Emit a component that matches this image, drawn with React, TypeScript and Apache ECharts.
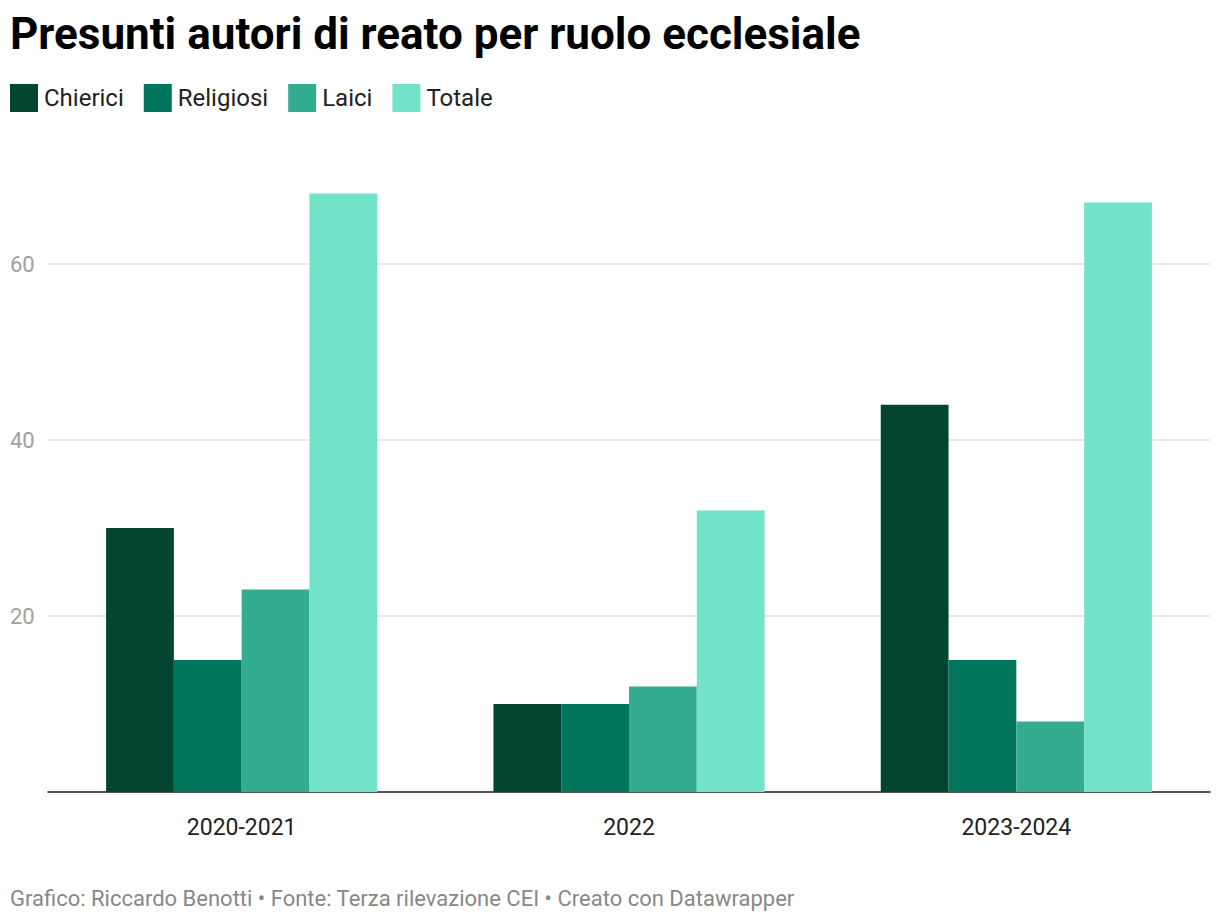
import React, { useEffect, useRef } from "react";
import * as echarts from "echarts";

const categories = ["2020-2021", "2022", "2023-2024"];
const seriesNames = ["Chierici", "Religiosi", "Laici", "Totale"];
const chierici = [30, 10, 44];
const religiosi = [15, 10, 15];
const laici = [23, 12, 8];
const totale = [68, 32, 67];
const colors = ["#034530", "#02765c", "#34ac8f", "#72e3c8"];

const TITLE = "Presunti autori di reato per ruolo ecclesiale";
const FOOTER = "Grafico: Riccardo Benotti • Fonte: Terza rilevazione CEI • Creato con Datawrapper";
const FONT = "Roboto, 'Noto Sans', sans-serif";

export default function App() {
  const ref = useRef<HTMLDivElement>(null);
  useEffect(() => {
    document.body.style.margin = "0";
    const chart = echarts.init(ref.current!, null, { renderer: "svg" });
    const values = [chierici, religiosi, laici, totale];
    chart.setOption({
      animation: false,
      backgroundColor: "#ffffff",
      textStyle: { fontFamily: FONT },
      graphic: [
        {
          type: "text",
          left: 10,
          top: 12,
          style: { text: TITLE, fontSize: 44, fontWeight: "bold", fill: "#000000", fontFamily: FONT },
        },
        {
          type: "text",
          left: 10,
          top: 887,
          style: { text: FOOTER, fontSize: 22, fill: "#888888", fontFamily: FONT },
        },
      ],
      legend: {
        left: 10,
        top: 84,
        padding: 0,
        itemWidth: 28,
        itemHeight: 28,
        itemGap: 20,
        icon: "rect",
        textStyle: { fontSize: 24, color: "#222222", fontFamily: FONT, padding: [0, 0, 0, 1] },
        data: seriesNames,
      },
      grid: { left: 48, right: 10, top: 176, bottom: 132, containLabel: false },
      xAxis: {
        type: "category",
        data: categories,
        axisLine: { lineStyle: { color: "#222222", width: 1.5 } },
        axisTick: { alignWithLabel: true, length: 8, lineStyle: { color: "#222222", width: 1.5 } },
        axisLabel: { fontSize: 23, color: "#222222", margin: 24, fontFamily: FONT },
      },
      yAxis: {
        type: "value",
        min: 0,
        max: 70,
        interval: 20,
        axisLine: { show: false },
        axisTick: { show: false },
        axisLabel: {
          fontSize: 22,
          color: "#a0a0a0",
          align: "left",
          margin: 38,
          showMaxLabel: false,
          fontFamily: FONT,
          formatter: (v: number) => (v === 0 || v === 70 ? "" : String(v)),
        },
        splitLine: {
          lineStyle: {
            color: ["#e3e3e3", "#e3e3e3", "#e3e3e3", "#e3e3e3", "rgba(0,0,0,0)"],
            width: 1.5,
          },
        },
      },
      series: seriesNames.map((name, i) => ({
        name,
        type: "bar",
        data: values[i],
        barGap: "0%",
        barCategoryGap: "30%",
        itemStyle: { color: colors[i] },
      })),
    });
    return () => chart.dispose();
  }, []);
  return <div ref={ref} style={{ width: 1220, height: 924 }} />;
}
